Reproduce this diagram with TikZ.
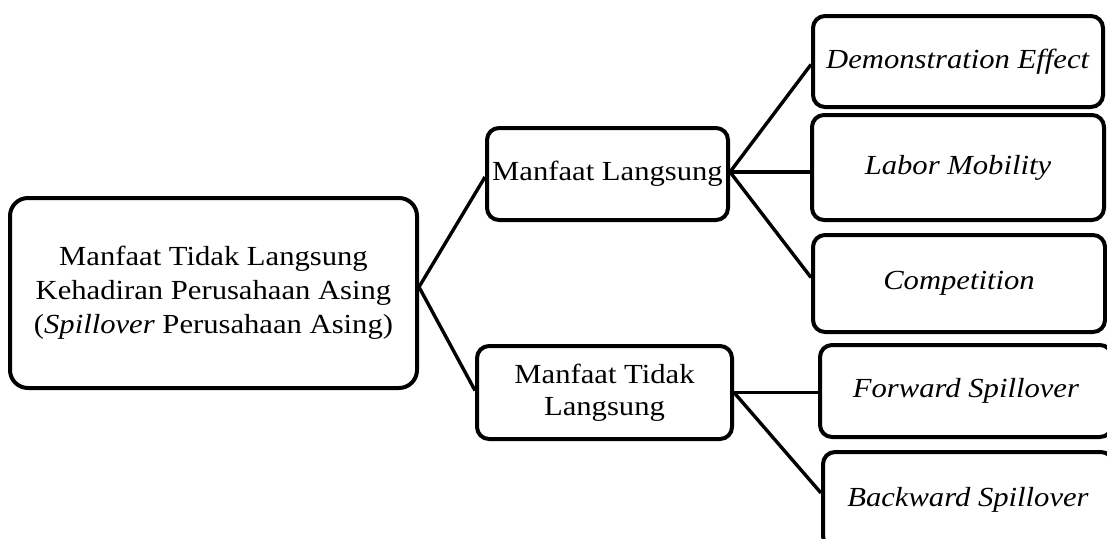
\documentclass[tikz,border=0pt]{standalone}
\usepackage{fontspec}
\setmainfont{Liberation Serif}[FakeStretch=1.11]
\begin{document}
\begin{tikzpicture}[x=1pt,y=-1pt,
  box/.style={draw=black,line width=4pt,rounded corners=12pt,inner sep=0pt,align=center,
    font=\fontsize{27.6}{34}\selectfont},
  bigbox/.style={box,rounded corners=18pt},
  link/.style={draw=black,line width=3.4pt}]
\fill[white] (0,0) rectangle (1107,538);
\clip (0,0) rectangle (1107,538);
\node[bigbox,minimum width=407pt,minimum height=190pt] (root) at (213.5,293)
  {Manfaat Tidak Langsung\\Kehadiran Perusahaan Asing\\(\textit{Spillover} Perusahaan Asing)};
\node[box,minimum width=241pt,minimum height=92pt] (ml) at (607.5,174) {Manfaat Langsung};
\node[box,minimum width=255pt,minimum height=93pt,font=\fontsize{27.6}{32}\selectfont] (mtl) at (604.5,392.5) {Manfaat Tidak\\Langsung};
\node[box,minimum width=290pt,minimum height=91pt] (demo) at (958,61.5) {\textit{Demonstration Effect}};
\node[box,minimum width=292pt,minimum height=105pt] (labor) at (958,167.5) {\textit{Labor Mobility}};
\node[box,minimum width=292pt,minimum height=97pt] (comp) at (959,283.5) {\textit{Competition}};
\node[box,minimum width=292pt,minimum height=92pt] (fwd) at (966,391) {\textit{Forward Spillover}};
\node[box,minimum width=290pt,minimum height=96pt] (back) at (968,500) {\textit{Backward Spillover}};
\coordinate (rootout) at ([yshift=6pt]root.east);
\coordinate (mlout) at ([yshift=2pt]ml.east);
\draw[link] (rootout) -- ([yshift=-3pt]ml.west);
\draw[link] (rootout) -- ([yshift=2pt]mtl.west);
\draw[link] (mlout) -- ([yshift=-3pt]demo.west);
\draw[link] (mlout) -- (labor.west |- mlout);
\draw[link] (mlout) -- ([yshift=6pt]comp.west);
\draw[link] (mtl.east) -- (fwd.west |- mtl.east);
\draw[link] (mtl.east) -- ([yshift=7pt]back.west);
\end{tikzpicture}
\end{document}
